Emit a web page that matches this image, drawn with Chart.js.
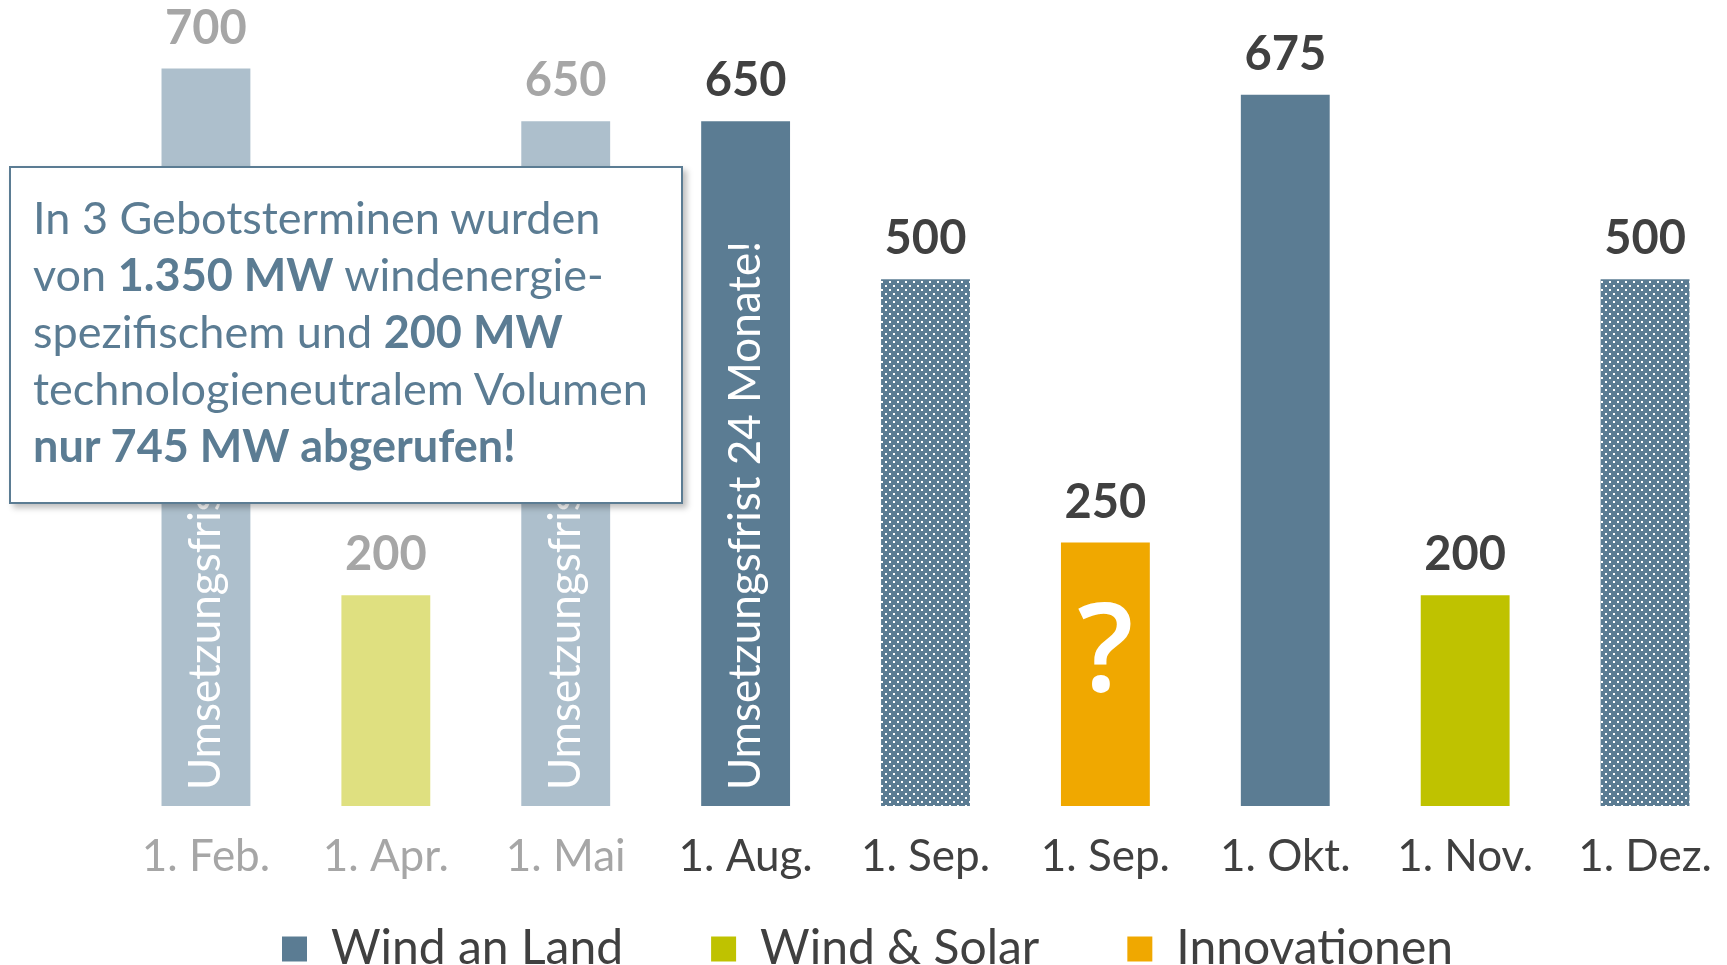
<!DOCTYPE html>
<html lang="de">
<head>
<meta charset="utf-8">
<script src="https://cdn.jsdelivr.net/npm/chart.js@4.4.1/dist/chart.umd.min.js"></script>
<style>
  html, body { margin: 0; padding: 0; background: #fff; overflow: hidden; }
  #wrap { position: relative; width: 1745px; height: 965px; }
  #note {
    position: absolute; left: 9px; top: 166px; width: 674px; height: 338px;
    box-sizing: border-box; border: 2px solid #5b7c93; background: #fff;
    box-shadow: 4px 4px 6px rgba(0, 0, 0, 0.25);
    padding: 21px 0 0 22px;
    font-family: Lato, "Open Sans", sans-serif; font-size: 45px; line-height: 57px;
    color: #5b7c93; white-space: nowrap;
  }
  #note b { font-weight: 700; }
</style>
</head>
<body>
<div id="wrap">
  <canvas id="auctionChart" width="1745" height="965"></canvas>
  <div id="note">In 3 Gebotsterminen wurden<br>von <b>1.350 MW</b> windenergie-<br>spezifischem und <b>200 MW</b><br>technologieneutralem Volumen<br><b>nur 745 MW abgerufen!</b></div>
</div>
<script>
(function () {
  "use strict";

  // Ausschreibungstermine und Volumen (MW)
  const categories = ["1. Feb.", "1. Apr.", "1. Mai", "1. Aug.", "1. Sep.", "1. Sep.", "1. Okt.", "1. Nov.", "1. Dez."];
  const windAnLand = [700, null, 650, 650, 500, null, 675, null, 500];
  const windSolar = [null, 200, null, null, null, null, null, 200, null];
  const innovationen = [null, null, null, null, null, 250, null, null, null];
  const seriesNames = ["Wind an Land", "Wind & Solar", "Innovationen"];
  const barNotes = ["Umsetzungsfrist 24 Monate!", null, "Umsetzungsfrist 24 Monate!", "Umsetzungsfrist 24 Monate!", null, "?", null, null, null];

  // which dates are already past (greyed out) / still open (dotted)
  const past = [true, true, true, false, false, false, false, false, false];
  const open = [false, false, false, false, true, false, false, false, true];

  const BLUE = "#5b7c93", BLUE_FADED = "#adbfcc";
  const GREEN = "#bfc200", GREEN_FADED = "#dfe080";
  const ORANGE = "#f0a800";
  const legendColors = [BLUE, GREEN, ORANGE];
  const font = "Lato, 'Open Sans', sans-serif";

  function dotPattern(color) {
    const tile = document.createElement("canvas");
    tile.width = 8;
    tile.height = 8;
    const t = tile.getContext("2d");
    t.fillStyle = color;
    t.fillRect(0, 0, 8, 8);
    t.fillStyle = "#fff";
    t.fillRect(1, 1, 2, 2);
    t.fillRect(5, 5, 2, 2);
    return document.getElementById("auctionChart").getContext("2d").createPattern(tile, "repeat");
  }
  const blueDots = dotPattern(BLUE);

  function colorFor(base, faded) {
    return (ctx) => {
      const i = ctx.dataIndex;
      if (open[i]) return blueDots;
      return past[i] ? faded : base;
    };
  }

  const barLabels = {
    id: "barLabels",
    afterDatasetsDraw(chart) {
      const ctx = chart.ctx;
      ctx.save();
      chart.data.datasets.forEach((ds, d) => {
        chart.getDatasetMeta(d).data.forEach((bar, i) => {
          const v = ds.data[i];
          if (v == null) return;
          ctx.fillStyle = past[i] ? "#a6a6a6" : "#404040";
          ctx.font = "bold 47px " + font;
          ctx.textAlign = "center";
          ctx.textBaseline = "middle";
          ctx.fillText(String(v), bar.x, bar.y - 40);

          const note = barNotes[i];
          if (!note) return;
          ctx.fillStyle = "#fff";
          if (note === "?") {
            ctx.font = "600 124px 'Open Sans', sans-serif";
            ctx.fillText(note, bar.x, (bar.y + bar.base) / 2 - 19);
          } else {
            ctx.save();
            ctx.translate(bar.x, bar.base - 16);
            ctx.rotate(-Math.PI / 2);
            ctx.font = "44px " + font;
            ctx.textAlign = "left";
            ctx.fillText(note, 0, 0);
            ctx.restore();
          }
        });
      });
      ctx.restore();
    },
  };

  // legend takes little room in the layout; its box is then stretched upwards
  const legendSpot = {
    id: "legendSpot",
    afterInit(chart) {
      const legend = chart.legend;
      const fit = legend.fit.bind(legend);
      legend.fit = function () {
        fit();
        this.height = 55;
      };
    },
    afterLayout(chart) {
      chart.legend.top -= 73;
    },
  };

  new Chart(document.getElementById("auctionChart"), {
    type: "bar",
    data: {
      labels: categories,
      datasets: [
        { label: seriesNames[0], data: windAnLand, backgroundColor: colorFor(BLUE, BLUE_FADED) },
        { label: seriesNames[1], data: windSolar, backgroundColor: colorFor(GREEN, GREEN_FADED) },
        { label: seriesNames[2], data: innovationen, backgroundColor: colorFor(ORANGE, ORANGE) },
      ],
    },
    options: {
      responsive: false,
      animation: false,
      categoryPercentage: 1,
      barPercentage: 0.494,
      layout: { padding: { left: 0, right: 10, top: 0, bottom: 0 } },
      plugins: {
        tooltip: { enabled: false },
        legend: {
          position: "bottom",
          labels: {
            boxWidth: 25,
            boxHeight: 25,
            padding: 88,
            color: "#404040",
            font: { family: font, size: 48 },
            generateLabels: (chart) =>
              chart.data.datasets.map((ds, i) => ({
                text: ds.label,
                fillStyle: legendColors[i],
                strokeStyle: legendColors[i],
                lineWidth: 0,
                hidden: false,
                datasetIndex: i,
                fontColor: "#404040",
              })),
          },
        },
      },
      scales: {
        x: {
          stacked: true,
          grid: { display: false, drawTicks: false },
          border: { display: false },
          ticks: {
            padding: 24,
            font: { family: font, size: 44 },
            color: (c) => (past[c.index] ? "#a6a6a6" : "#404040"),
          },
          afterFit: (s) => { s.height = 104; },
        },
        y: {
          stacked: true,
          min: 0,
          max: 765,
          grid: { display: false, drawTicks: false },
          border: { display: false },
          ticks: { display: false },
          afterFit: (s) => { s.width = 116; },
        },
      },
    },
    plugins: [barLabels, legendSpot],
  });
})();
</script>
</body>
</html>
